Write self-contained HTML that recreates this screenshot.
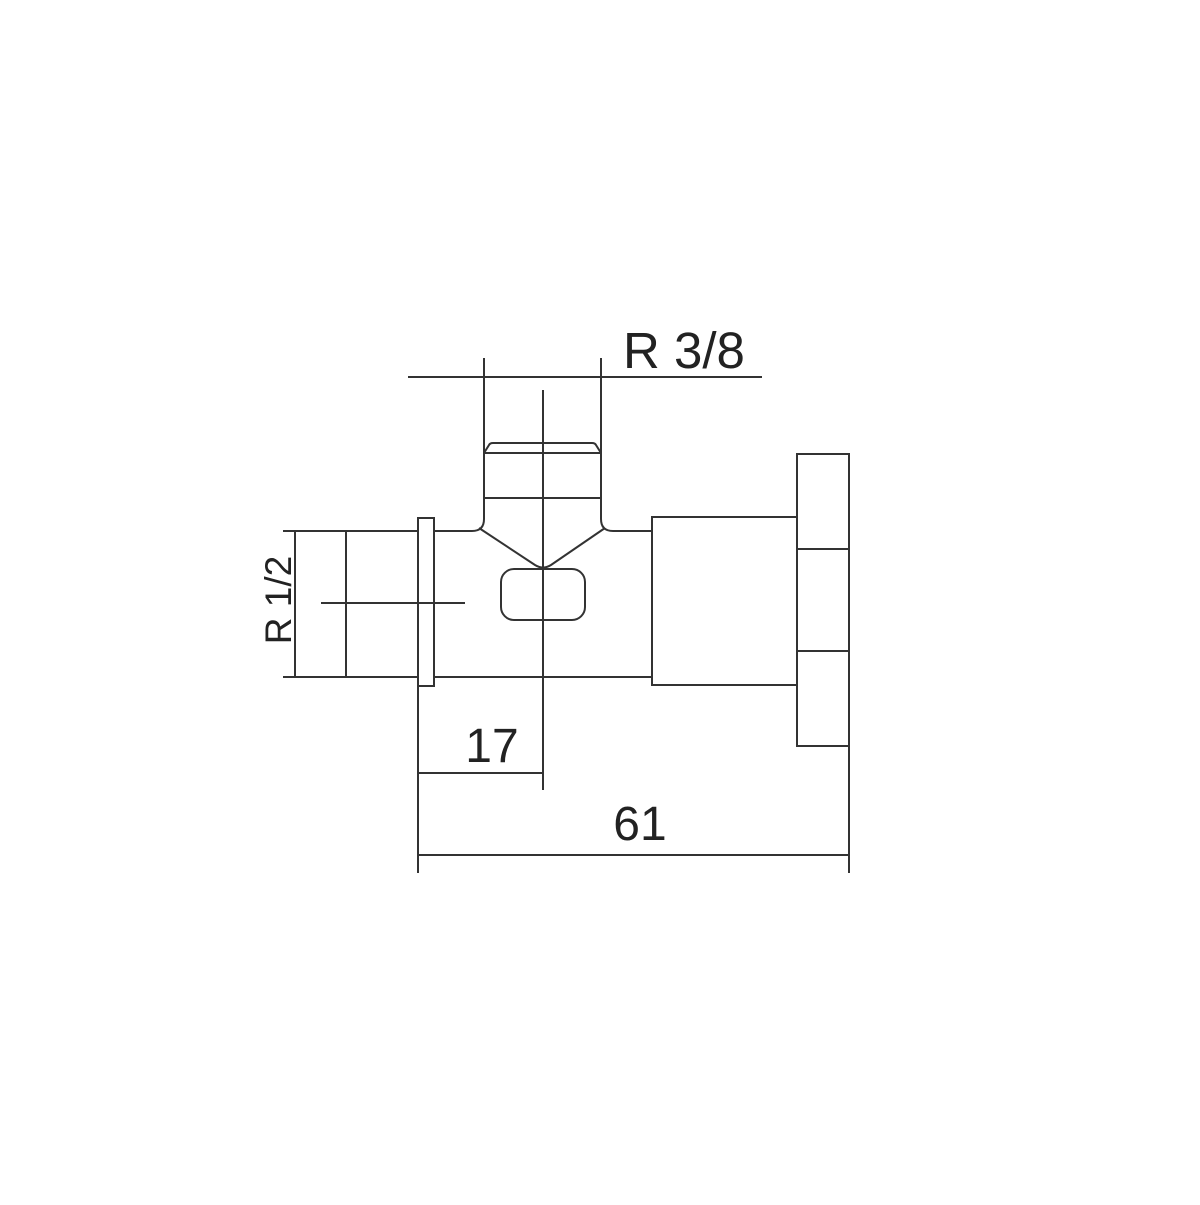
<!DOCTYPE html>
<html><head><meta charset="utf-8"><style>html,body{margin:0;padding:0;background:#fff}</style></head>
<body>
<svg width="1200" height="1200" viewBox="0 0 1200 1200" xmlns="http://www.w3.org/2000/svg">
<rect width="1200" height="1200" fill="#fff"/>
<g stroke="#333" stroke-width="2" fill="none">
<line x1="408" y1="377" x2="762" y2="377"/>
<path d="M484 358 V519 Q484 531 472 531 H434"/>
<path d="M601 358 V519 Q601 531 613 531 H652"/>
<line x1="543" y1="390" x2="543" y2="790"/>
<path d="M484 453 L489 445 Q490 443 493 443 H592 Q595 443 596 445 L601 453"/>
<line x1="484" y1="453" x2="601" y2="453"/>
<line x1="484" y1="498" x2="601" y2="498"/>
<path d="M479 528 L535 565 Q543 570 551 565 L605 528"/>
<rect x="501" y="569" width="84" height="51" rx="13"/>
<line x1="283" y1="531" x2="418" y2="531"/>
<line x1="283" y1="677" x2="418" y2="677"/>
<line x1="295" y1="531" x2="295" y2="677"/>
<line x1="346" y1="531" x2="346" y2="677"/>
<line x1="321" y1="603" x2="465" y2="603"/>
<rect x="418" y="518" width="16" height="168"/>
<line x1="434" y1="677" x2="652" y2="677"/>
<rect x="652" y="517" width="145" height="168"/>
<rect x="797" y="454" width="52" height="292"/>
<line x1="797" y1="549" x2="849" y2="549"/>
<line x1="797" y1="651" x2="849" y2="651"/>
<line x1="849" y1="746" x2="849" y2="873"/>
<line x1="418" y1="686" x2="418" y2="873"/>
<line x1="418" y1="855" x2="849" y2="855"/>
<line x1="418" y1="773" x2="543" y2="773"/>
</g>
<g font-family="Liberation Sans, sans-serif" fill="#222">
<text x="623" y="368" font-size="51">R 3/8</text>
<text x="492" y="762" font-size="48" text-anchor="middle">17</text>
<text x="640" y="840" font-size="48" text-anchor="middle">61</text>
<text x="0" y="0" font-size="37" text-anchor="middle" transform="translate(291,600) rotate(-90)">R 1/2</text>
</g>
</svg>
</body></html>
